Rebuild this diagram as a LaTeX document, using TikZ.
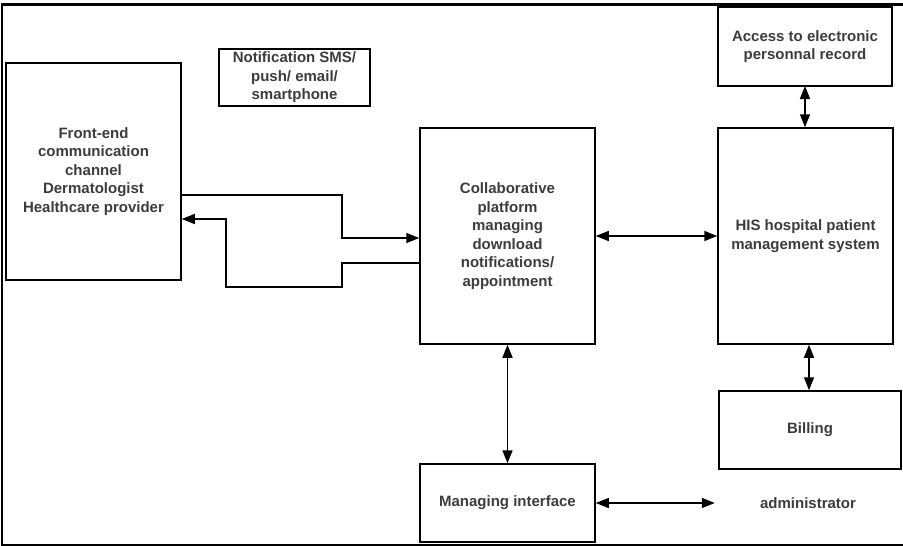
\documentclass[tikz,border=0pt]{standalone}
\usepackage{fontspec}
\setmainfont{Liberation Sans}
\definecolor{txtgray}{RGB}{60,60,60}
\usetikzlibrary{arrows.meta, positioning}

\begin{document}
\begin{tikzpicture}[x=1pt, y=-1pt,
  box/.style={draw=black, line width=1.5pt, inner sep=0pt, align=center,
    font=\fontsize{15}{18.5}\selectfont\bfseries, text=txtgray},
  lbl/.style={inner sep=0pt, font=\fontsize{15}{18.5}\selectfont\bfseries, text=txtgray},
  link/.style={line width=1.5pt, {Triangle[length=13pt,width=10pt]}-{Triangle[length=13pt,width=10pt]}},
  onelink/.style={line width=1.5pt, -{Triangle[length=13pt,width=10pt]}},
]
\useasboundingbox (0,0) rectangle (903,546);
% outer frame
\draw[line width=2.5pt] (903,4.5) -- (2,4.5) -- (2,545) -- (903,545);

% boxes
\node[box, minimum width=175, minimum height=217] (front) at (93.5,171.5)
  {Front-end\\communication\\channel\\Dermatologist\\Healthcare provider};
\node[box, minimum width=151, minimum height=57] (notif) at (294.5,77.5)
  {Notification SMS/\\push/ email/\\smartphone};
\node[box, minimum width=175, minimum height=216] (collab) at (507.5,236)
  {Collaborative\\platform\\managing\\download\\notifications/\\appointment};
\node[box, minimum width=175, minimum height=216] (his) at (805.5,236)
  {HIS hospital patient\\management system};
\node[box, minimum width=174, minimum height=79] (access) at (805,46.5)
  {Access to electronic\\personnal record};
\node[box, minimum width=182, minimum height=78] (billing) at (810,430)
  {Billing};
\node[box, minimum width=175, minimum height=78] (manage) at (507.5,503)
  {Managing interface};
\node[lbl, minimum width=186] (admin) at (808,503) {administrator};

% connectors
\draw[onelink] (front.east |- 0,195) -- (342,195) -- (342,238) -- (collab.west |- 0,238);
\draw[onelink] (collab.west |- 0,263) -- (342,263) -- (342,287) -- (226,287)
  -- (226,219) -- (front.east |- 0,219);
\draw[link] (collab) -- (his);
\draw[link] (collab) -- (manage);
\draw[link] (manage) -- (admin);
\draw[link] (access.south |- 0,86) -- (his.north -| access.south);
\draw[link] (his.south -| 809,0) -- (billing.north -| 809,0);
\end{tikzpicture}
\end{document}
